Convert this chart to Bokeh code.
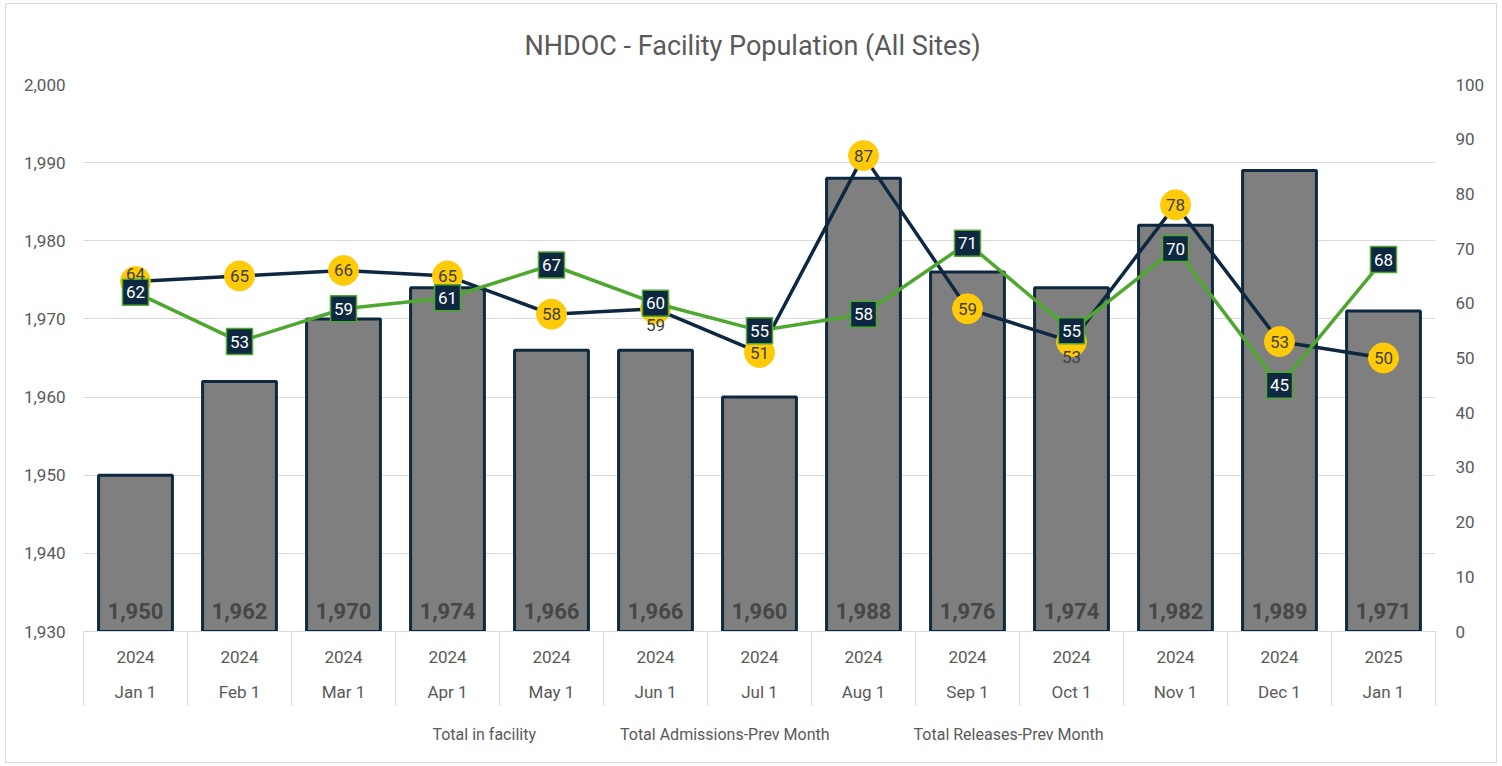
from bokeh.plotting import figure
from bokeh.layouts import column
from bokeh.models import (Range1d, LinearAxis, FixedTicker,
                          ColumnDataSource, Legend, LegendItem, NumeralTickFormatter)
from bokeh.core.properties import value
from bokeh.embed import file_html
from bokeh.resources import INLINE

# ---- data ----
years = ["2024"] * 12 + ["2025"]
days = ["Jan 1", "Feb 1", "Mar 1", "Apr 1", "May 1", "Jun 1", "Jul 1",
        "Aug 1", "Sep 1", "Oct 1", "Nov 1", "Dec 1", "Jan 1"]
totals = [1950, 1962, 1970, 1974, 1966, 1966, 1960, 1988, 1976, 1974, 1982, 1989, 1971]
admissions = [64, 65, 66, 65, 58, 59, 51, 87, 59, 53, 78, 53, 50]
releases = [62, 53, 59, 61, 67, 60, 55, 58, 71, 55, 70, 45, 68]
left_ticks = [1930, 1940, 1950, 1960, 1970, 1980, 1990, 2000]
right_ticks = [0, 10, 20, 30, 40, 50, 60, 70, 80, 90, 100]

# style: label offsets for admissions labels (pixels)
adm_label_dy = [-7, 0, 0, 0, 0, 16, 0, 0, 0, 15, 0, 0, 0]

NAVY = "#0E2841"
GREEN = "#4EA72E"
YELLOW = "#FFCA08"
GRAY_TXT = "#595959"
GRID = "#D9D9D9"
FONT = "Roboto"

n = len(days)
xs = [i + 0.5 for i in range(n)]          # category centres
bounds = [float(i) for i in range(n + 1)]  # category boundaries

src = ColumnDataSource(dict(
    x=xs,
    total=totals,
    total_lbl=[f"{t:,}" for t in totals],
    adm=admissions,
    adm_lbl=[str(a) for a in admissions],
    adm_dy=adm_label_dy,
    rel=releases,
    rel_lbl=[str(r) for r in releases],
))

p = figure(
    x_range=Range1d(0, n),
    y_range=Range1d(1930, 2000),
    frame_width=1352, frame_height=547,
    output_backend="svg", toolbar_location=None,
    x_axis_location=None,
    min_border_left=77, min_border_right=61, min_border_top=80, min_border_bottom=75,
    border_fill_color="white", background_fill_color="white",
    outline_line_color=None,
)
p.extra_y_ranges = {"right": Range1d(0, 100)}

# title
p.title.text = "NHDOC - Facility Population (All Sites)"
p.title.align = "left"
p.title.offset = 441
p.title.text_font = FONT
p.title.text_font_size = "27px"
p.title.text_font_style = "normal"
p.title.text_color = GRAY_TXT
p.title.standoff = 46

# grids
for g in p.xgrid:
    g.visible = False
p.ygrid.ticker = FixedTicker(ticks=left_ticks)
p.ygrid.grid_line_color = GRID
p.ygrid.grid_line_width = 1

# left axis
la = p.left[0]
la.ticker = FixedTicker(ticks=left_ticks)
la.formatter = NumeralTickFormatter(format="0,0")
la.axis_line_color = None
la.major_tick_line_color = None
la.minor_tick_line_color = None
la.major_tick_out = 0
la.major_tick_in = 0
la.major_label_standoff = 18
la.major_label_text_font = FONT
la.major_label_text_font_size = "17px"
la.major_label_text_color = GRAY_TXT

# right axis
ra = LinearAxis(y_range_name="right", ticker=FixedTicker(ticks=right_ticks))
ra.axis_line_color = None
ra.major_tick_line_color = None
ra.minor_tick_line_color = None
ra.major_tick_out = 0
ra.major_tick_in = 0
ra.major_label_standoff = 20
ra.major_label_text_font = FONT
ra.major_label_text_font_size = "17px"
ra.major_label_text_color = GRAY_TXT
p.add_layout(ra, "right")

# bottom axes: year row (with category separators as minor ticks), day row
ax_year = LinearAxis(ticker=FixedTicker(ticks=xs, minor_ticks=bounds),
                     major_label_overrides={x: y for x, y in zip(xs, years)})
ax_day = LinearAxis(ticker=FixedTicker(ticks=xs),
                    major_label_overrides={x: d for x, d in zip(xs, days)})
for ax, so in ((ax_year, -55), (ax_day, 16)):
    ax.major_tick_line_color = None
    ax.major_tick_out = 0
    ax.major_tick_in = 0
    ax.minor_tick_in = 0
    ax.major_label_standoff = so
    ax.major_label_text_font = FONT
    ax.major_label_text_font_size = "17px"
    ax.major_label_text_color = GRAY_TXT
ax_year.axis_line_color = GRID
ax_year.minor_tick_line_color = GRID
ax_year.minor_tick_out = 74
ax_day.axis_line_color = None
ax_day.minor_tick_line_color = None
ax_day.minor_tick_out = 0
p.add_layout(ax_year, "below")
p.add_layout(ax_day, "below")

# bars
p.vbar(x="x", top="total", bottom=1930, width=0.71, source=src,
       fill_color="#7F7F7F", line_color=NAVY, line_width=3)

# admissions
p.line(x="x", y="adm", source=src, y_range_name="right",
       line_color=NAVY, line_width=3.5)
p.scatter(x="x", y="adm", source=src, y_range_name="right", marker="circle",
          size=30, fill_color=YELLOW, line_color=YELLOW)

# releases
p.line(x="x", y="rel", source=src, y_range_name="right",
       line_color=GREEN, line_width=3.5)
p.scatter(x="x", y="rel", source=src, y_range_name="right", marker="square",
          size=26, fill_color=NAVY, line_color=GREEN, line_width=1.5)

# labels
p.text(x="x", y=1930, text="total_lbl", source=src, text_align="center",
       text_baseline="bottom", y_offset=-13, text_font=value(FONT),
       text_font_style="bold", text_font_size="22px", text_color="#474747")
p.text(x="x", y="adm", text="adm_lbl", source=src, y_range_name="right",
       text_align="center", text_baseline="middle", y_offset="adm_dy",
       text_font=value(FONT), text_font_size="17px", text_color="#404040")
p.text(x="x", y="rel", text="rel_lbl", source=src, y_range_name="right",
       text_align="center", text_baseline="middle",
       text_font=value(FONT), text_font_size="17px", text_color="white")

# ---- legend strip (separate small figure below the chart) ----
lg = figure(
    x_range=Range1d(0, 1), y_range=Range1d(0, 1),
    frame_width=1490, frame_height=56,
    output_backend="svg", toolbar_location=None,
    x_axis_location=None, y_axis_location=None,
    min_border_left=0, min_border_right=0, min_border_top=0, min_border_bottom=0,
    border_fill_color="white", background_fill_color="white",
    outline_line_color=None,
)
lg.title.visible = False
for g in lg.xgrid + lg.ygrid:
    g.visible = False

leg_bar_outer = lg.line(x=[], y=[], line_color=NAVY, line_width=14)
leg_bar_inner = lg.line(x=[], y=[], line_color="#7F7F7F", line_width=8)
leg_adm_line = lg.line(x=[], y=[], line_color=NAVY, line_width=3.5)
leg_adm_pt = lg.scatter(x=[], y=[], marker="circle", fill_color=YELLOW, line_color=YELLOW)
leg_rel_line = lg.line(x=[], y=[], line_color=GREEN, line_width=3.5)
leg_rel_pt = lg.scatter(x=[], y=[], marker="square", fill_color=NAVY, line_color=GREEN,
                        line_width=1.5)

legend = Legend(items=[
    LegendItem(label="Total in facility", renderers=[leg_bar_outer, leg_bar_inner]),
    LegendItem(label="Total Admissions-Prev Month", renderers=[leg_adm_line, leg_adm_pt]),
    LegendItem(label="Total Releases-Prev Month", renderers=[leg_rel_line, leg_rel_pt]),
], orientation="horizontal", location="center")
legend.border_line_color = None
legend.background_fill_alpha = 0
legend.glyph_width = 32
legend.glyph_height = 25
legend.label_standoff = 2
legend.spacing = 50
legend.padding = 0
legend.margin = 0
legend.label_text_font = FONT
legend.label_text_font_size = "16px"
legend.label_text_color = GRAY_TXT
lg.add_layout(legend, "center")

layout = column(p, lg, spacing=0)
layout.styles = {"border": "1px solid #D9D9D9"}
layout.margin = (3, 5, 0, 5)

open("out.html", "w").write(file_html(layout, INLINE))
